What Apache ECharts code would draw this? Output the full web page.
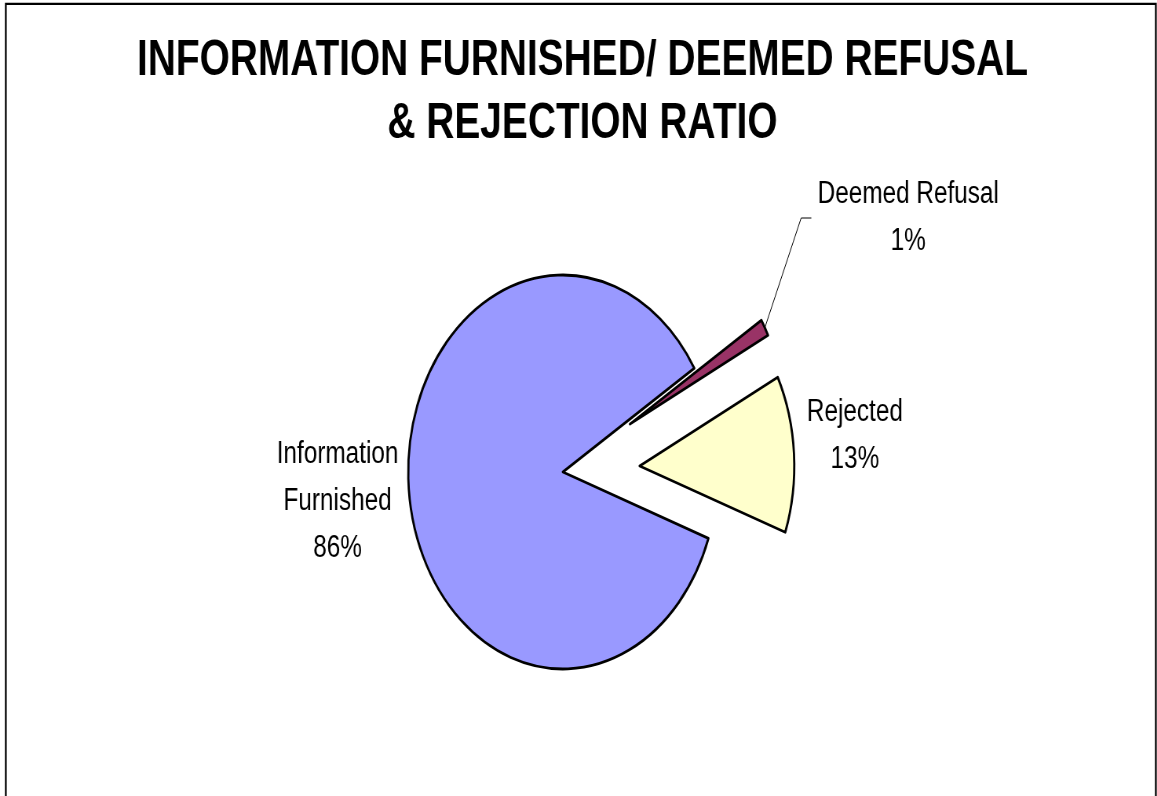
<!DOCTYPE html>
<html>
<head>
<meta charset="utf-8">
<script src="https://cdn.jsdelivr.net/npm/echarts@6/dist/echarts.min.js"></script>
<style>
html,body{margin:0;padding:0;background:#fff;overflow:hidden;width:1157px;height:796px}
#main{position:absolute;left:0;top:0;width:1474px;height:796px;transform:scaleX(0.785);transform-origin:0 0}
</style>
</head>
<body>
<div id="main"></div>
<script>
// ---- data ----
const categories = ['Deemed Refusal', 'Rejected', 'Information Furnished'];
const values = [1.4, 12.9, 85.7];
const exploded = [true, true, false];
const colors = ['#993366', '#FFFFCC', '#9999FF'];
const titleText = 'INFORMATION FURNISHED/ DEEMED REFUSAL\n& REJECTION RATIO';

// ---- chart ----
const chart = echarts.init(document.getElementById('main'), null, { renderer: 'canvas', width: 1474, height: 796 });

const startAngle = 31.8;
const baseCenter = [717, 472];
const pieRadius = 197;
const explodeDist = 98;
const labelSpots = { 0: [1153, 218], 1: [1089, 436], 2: [430, 501] };
const total = values.reduce(function (a, b) { return a + b; }, 0);

const labelBase = {
  show: true,
  position: 'outside',
  color: '#000',
  fontFamily: 'Liberation Sans',
  fontSize: 31,
  lineHeight: 47,
  align: 'center',
  formatter: function (p) {
    const nm = p.name === 'Information Furnished' ? 'Information\nFurnished' : p.name;
    return nm + '\n' + Math.round(p.percent) + '%';
  }
};

let acc = 0;
const pieSeries = categories.map(function (name, k) {
  // each slice drawn by its own pie series so exploded slices can be pulled out along their bisector
  const mid = (startAngle - (acc + values[k] / 2) / total * 360) * Math.PI / 180;
  acc += values[k];
  const d = exploded[k] ? explodeDist : 0;
  const center = [baseCenter[0] + d * Math.cos(mid), baseCenter[1] - d * Math.sin(mid)];
  return {
    type: 'pie',
    name: name,
    center: center,
    radius: pieRadius,
    startAngle: startAngle,
    clockwise: true,
    avoidLabelOverlap: false,
    silent: true,
    emphasis: { disabled: true },
    label: labelBase,
    labelLine: { show: false },
    labelLayout: function (p) {
      const s = labelSpots[p.dataIndex];
      return { x: s[0], y: s[1], align: 'center', verticalAlign: 'middle' };
    },
    data: categories.map(function (n, i) {
      const own = i === k;
      const item = {
        name: n,
        value: values[i],
        itemStyle: own
          ? { color: colors[i], borderColor: '#000', borderWidth: 2.8 }
          : { color: 'rgba(0,0,0,0)', borderColor: 'rgba(0,0,0,0)', borderWidth: 0 },
        label: { show: own },
        labelLine: { show: false }
      };
      if (own && i === 0) {
        item.label = { show: true, padding: [0, 0, 0, 8] };
        item.labelLine = { show: true, length: 10, length2: 13, minTurnAngle: 60, lineStyle: { color: '#000', width: 1 } };
      }
      return item;
    })
  };
});

const option = {
  backgroundColor: '#ffffff',
  animation: false,
  title: {
    text: titleText,
    left: 742,
    top: 30,
    textAlign: 'center',
    padding: 0,
    textStyle: {
      fontFamily: 'Liberation Sans',
      fontWeight: 'bold',
      fontSize: 49.5,
      lineHeight: 63,
      color: '#000'
    }
  },
  graphic: [{
    type: 'rect',
    silent: true,
    z: 100,
    shape: { x: 7.4, y: 3.8, width: 1465, height: 900 },
    style: { fill: null, stroke: '#000', lineWidth: 2.3 }
  }],
  series: pieSeries
};

chart.setOption(option);
</script>
</body>
</html>
